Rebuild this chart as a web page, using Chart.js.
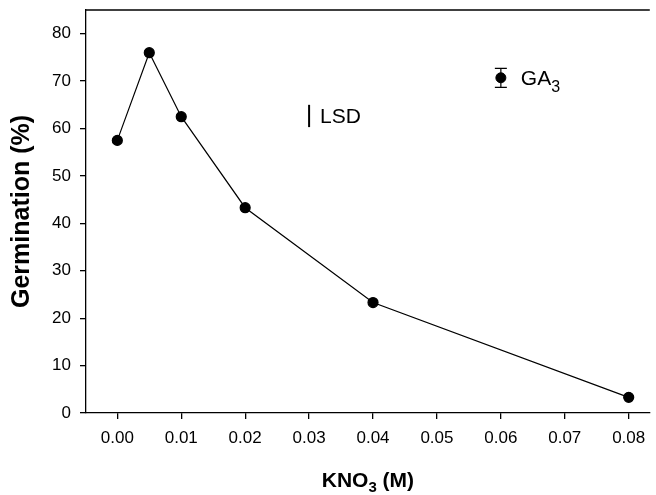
<!DOCTYPE html>
<html>
<head>
<meta charset="utf-8">
<script src="https://cdn.jsdelivr.net/npm/chart.js"></script>
<title>Germination vs KNO3</title>
<style>
  body { margin: 0; background: #fff; }
  #wrap { width: 656px; height: 495px; }
</style>
</head>
<body>
<div id="wrap">
  <canvas id="myChart" width="656" height="495"></canvas>
</div>

<script>
  // KNO3 concentration (M) and mean germination (%)
  const kno3 = [0, 0.005, 0.01, 0.02, 0.04, 0.08];
  const germination = [57.5, 76, 62.5, 43.3, 23.3, 3.3];

  // GA3 control point with its standard error
  const gaX = [0.06];
  const gaY = [70.7];
  const gaErr = [2.0];

  // LSD bar
  const lsdX = 0.03;
  const lsdLow = 60.3;
  const lsdHigh = 65.0;

  const xTicks = [0, 0.01, 0.02, 0.03, 0.04, 0.05, 0.06, 0.07, 0.08];
  const yTicks = [0, 10, 20, 30, 40, 50, 60, 70, 80];

  const FONT = 'Liberation Sans, Arial, sans-serif';

  const extras = {
    id: 'extras',
    afterDraw(chart) {
      const c = chart.ctx;
      const xs = chart.scales.x, ys = chart.scales.y;
      const a = chart.chartArea;
      c.save();
      c.strokeStyle = '#000';
      c.fillStyle = '#000';

      // frame top
      c.lineWidth = 1.3;
      c.beginPath();
      c.moveTo(a.left, a.top);
      c.lineTo(a.right, a.top);
      c.stroke();

      // error bar on GA3
      c.lineWidth = 1.2;
      for (let i = 0; i < gaX.length; i++) {
        const px = xs.getPixelForValue(gaX[i]);
        const top = ys.getPixelForValue(gaY[i] + gaErr[i]);
        const bot = ys.getPixelForValue(gaY[i] - gaErr[i]);
        c.beginPath();
        c.moveTo(px, top); c.lineTo(px, bot);
        c.moveTo(px - 6, top); c.lineTo(px + 6, top);
        c.moveTo(px - 6, bot); c.lineTo(px + 6, bot);
        c.stroke();
        // label GA3
        const ly = ys.getPixelForValue(gaY[i]) + 1;
        c.font = '21px ' + FONT;
        c.textBaseline = 'middle';
        c.textAlign = 'left';
        c.fillText('GA', px + 20, ly);
        const w = c.measureText('GA').width;
        c.font = '16px ' + FONT;
        c.fillText('3', px + 20 + w, ly + 9);
      }

      // LSD bar
      const lx = xs.getPixelForValue(lsdX);
      c.lineWidth = 2;
      c.beginPath();
      c.moveTo(lx, ys.getPixelForValue(lsdLow));
      c.lineTo(lx, ys.getPixelForValue(lsdHigh));
      c.stroke();
      c.font = '21px ' + FONT;
      c.textBaseline = 'middle';
      c.textAlign = 'left';
      c.fillText('LSD', lx + 11, ys.getPixelForValue((lsdLow + lsdHigh) / 2) + 1);

      // y axis title
      c.save();
      c.translate(22, (a.top + a.bottom) / 2);
      c.rotate(-Math.PI / 2);
      c.font = 'bold 25px ' + FONT;
      c.textAlign = 'center';
      c.textBaseline = 'middle';
      c.fillText('Germination (%)', 0, 0);
      c.restore();

      // x axis title with subscript
      c.textBaseline = 'alphabetic';
      c.textAlign = 'left';
      const p1 = 'KNO', p3 = ' (M)';
      c.font = 'bold 21px ' + FONT;
      const w1 = c.measureText(p1).width, w3 = c.measureText(p3).width;
      c.font = 'bold 15px ' + FONT;
      const w2 = c.measureText('3').width;
      const sx = (a.left + a.right) / 2 - (w1 + w2 + w3) / 2;
      const base = 487;
      c.font = 'bold 21px ' + FONT;
      c.fillText(p1, sx, base);
      c.font = 'bold 15px ' + FONT;
      c.fillText('3', sx + w1, base + 5);
      c.font = 'bold 21px ' + FONT;
      c.fillText(p3, sx + w1 + w2, base);

      c.restore();
    }
  };

  new Chart(document.getElementById('myChart'), {
    type: 'scatter',
    data: {
      datasets: [{
        label: 'KNO3',
        data: kno3.map((x, i) => ({ x: x, y: germination[i] })),
        showLine: true,
        borderColor: '#000',
        borderWidth: 1.2,
        pointRadius: 5,
        pointBackgroundColor: '#000',
        pointBorderColor: '#000',
        tension: 0
      }, {
        label: 'GA3',
        data: gaX.map((x, i) => ({ x: x, y: gaY[i] })),
        pointRadius: 5,
        pointBackgroundColor: '#000',
        pointBorderColor: '#000'
      }]
    },
    options: {
      responsive: false,
      animation: false,
      layout: { padding: { top: 10, right: 0, left: 0, bottom: 0 } },
      plugins: { legend: { display: false }, tooltip: { enabled: false } },
      scales: {
        x: {
          type: 'linear',
          min: -0.0049,
          max: 0.0833,
          afterBuildTicks: s => { s.ticks = xTicks.map(v => ({ value: v })); },
          afterFit: s => { s.height = 82; s.paddingLeft = 0; s.paddingRight = 0; },
          border: { display: true, color: '#000', width: 1.3 },
          grid: { drawOnChartArea: false, tickLength: 6, color: '#000', lineWidth: 1.3 },
          ticks: {
            color: '#000',
            padding: 9,
            maxRotation: 0,
            font: { family: FONT, size: 17 },
            callback: v => v.toFixed(2)
          }
        },
        y: {
          min: 0,
          max: 85,
          afterBuildTicks: s => { s.ticks = yTicks.map(v => ({ value: v })); },
          afterFit: s => { s.width = 86; s.paddingTop = 0; s.paddingBottom = 0; },
          border: { display: true, color: '#000', width: 1.3 },
          grid: { drawOnChartArea: false, tickLength: 6, color: '#000', lineWidth: 1.3 },
          ticks: {
            color: '#000',
            padding: 9,
            font: { family: FONT, size: 17 }
          }
        }
      }
    },
    plugins: [extras]
  });
</script>

</body>
</html>
